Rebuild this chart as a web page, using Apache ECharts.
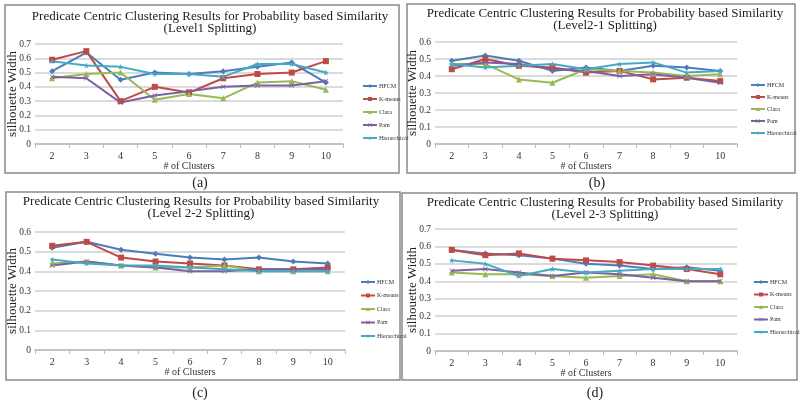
<!DOCTYPE html>
<html><head><meta charset="utf-8">
<script src="https://cdn.jsdelivr.net/npm/echarts@6/dist/echarts.min.js"></script>
<style>html,body{margin:0;padding:0;background:#fff}#c{width:800px;height:404px}</style>
</head><body><div id="c"></div>
<script>
var categories = ['2','3','4','5','6','7','8','9','10'];
var seriesNames = ['HFCM','K-means','Clara','Pam','Hierarchical'];

var a_hfcm   = [0.51,0.64,0.45,0.50,0.49,0.51,0.54,0.57,0.43];
var a_kmeans = [0.59,0.65,0.30,0.40,0.36,0.46,0.49,0.50,0.58];
var a_clara  = [0.46,0.49,0.50,0.31,0.35,0.32,0.43,0.44,0.38];
var a_pam    = [0.47,0.46,0.29,0.34,0.37,0.40,0.41,0.41,0.44];
var a_hier   = [0.58,0.55,0.54,0.49,0.49,0.47,0.56,0.56,0.50];

var b_hfcm   = [0.49,0.52,0.49,0.43,0.45,0.43,0.46,0.45,0.43];
var b_kmeans = [0.44,0.50,0.46,0.45,0.42,0.43,0.38,0.39,0.37];
var b_clara  = [0.47,0.47,0.38,0.36,0.44,0.43,0.42,0.40,0.41];
var b_pam    = [0.46,0.48,0.47,0.44,0.43,0.40,0.41,0.39,0.36];
var b_hier   = [0.47,0.45,0.46,0.47,0.44,0.47,0.48,0.42,0.43];

var c_hfcm   = [0.52,0.55,0.51,0.49,0.47,0.46,0.47,0.45,0.44];
var c_kmeans = [0.53,0.55,0.47,0.45,0.44,0.43,0.41,0.41,0.42];
var c_clara  = [0.44,0.45,0.43,0.42,0.42,0.43,0.40,0.40,0.40];
var c_pam    = [0.43,0.45,0.43,0.42,0.40,0.40,0.41,0.41,0.41];
var c_hier   = [0.46,0.44,0.43,0.43,0.42,0.41,0.40,0.40,0.40];

var d_hfcm   = [0.58,0.56,0.55,0.53,0.50,0.49,0.47,0.48,0.46];
var d_kmeans = [0.58,0.55,0.56,0.53,0.52,0.51,0.49,0.47,0.44];
var d_clara  = [0.45,0.44,0.44,0.43,0.42,0.43,0.44,0.40,0.40];
var d_pam    = [0.46,0.47,0.45,0.43,0.45,0.44,0.42,0.40,0.40];
var d_hier   = [0.52,0.50,0.43,0.47,0.45,0.46,0.47,0.47,0.47];

var yMax = [0.7, 0.6, 0.6, 0.7];
var panelTitles = [
  'Predicate Centric Clustering Results for Probability based Similarity\n(Level1 Splitting)',
  'Predicate Centric Clustering Results for Probability based Similarity\n(Level2-1 Splitting)',
  'Predicate Centric Clustering Results for Probability based Similarity\n(Level 2-2 Splitting)',
  'Predicate Centric Clustering Results for Probability based Similarity\n(Level 2-3 Splitting)'
];
var panelLabels = ['(a)','(b)','(c)','(d)'];
var xName = '# of Clusters';
var yName = 'silhouette Width';

var panelData = [
  [a_hfcm,a_kmeans,a_clara,a_pam,a_hier],
  [b_hfcm,b_kmeans,b_clara,b_pam,b_hier],
  [c_hfcm,c_kmeans,c_clara,c_pam,c_hier],
  [d_hfcm,d_kmeans,d_clara,d_pam,d_hier]
];

var FONT = 'Liberation Serif';
var colors = ['#4A7EBB','#BE4B48','#98B954','#7D60A0','#46AAC5'];
var symbols = ['diamond','rect','triangle',
  'path://M1,0L5,4L9,0L10,1L6,5L10,9L9,10L5,6L1,10L0,9L4,5L0,1Z',
  'path://M5,0L6.2,3.8L10,3.8L7,6.2L8.1,10L5,7.6L1.9,10L3,6.2L0,3.8L3.8,3.8Z'];
var symSizes = [6,6,6,5,6];

var grids = [
  {left:35, top:44, width:308, height:100},
  {left:435, top:42, width:302, height:102},
  {left:35, top:232, width:310, height:118},
  {left:435, top:229, width:302, height:122}
];
var legendPos = [
  {left:357, top:78, itemGap:7},
  {left:745, top:77, itemGap:6},
  {left:355, top:274, itemGap:7.5},
  {left:748, top:274, itemGap:6.5}
];
var boxes = [
  {x:5, y:5, w:394, h:168},
  {x:407, y:4, w:388, h:169},
  {x:6, y:192, w:394, h:188},
  {x:402, y:193, w:395, h:187}
];
var titlePos = [[210,23],[605,20],[201,208],[605,209]];
var labelPos = [[200,183],[597,183],[200,393],[595,393]];

var xAxes = [], yAxes = [], series = [], legends = [], graphics = [];
for (var p = 0; p < 4; p++) {
  xAxes.push({
    type:'category', gridIndex:p, data:categories, boundaryGap:true,
    name:xName, nameLocation:'middle', nameGap:17, nameMoveOverlap:false,
    nameTextStyle:{fontFamily:FONT, fontSize:10, color:'#333'},
    axisLine:{lineStyle:{color:'#bbb', width:1.5}},
    axisTick:{show:true, length:4, lineStyle:{color:'#bbb'}},
    axisLabel:{fontFamily:FONT, fontSize:10, color:'#333', margin:7},
    splitLine:{show:false}
  });
  yAxes.push({
    type:'value', gridIndex:p, min:0, max:yMax[p], interval:0.1,
    name:yName, nameLocation:'middle', nameGap:16, nameMoveOverlap:false,
    nameTextStyle:{fontFamily:FONT, fontSize:13, color:'#222'},
    axisLine:{show:false}, axisTick:{show:false},
    axisLabel:{fontFamily:FONT, fontSize:9.5, color:'#333', margin:4,
      formatter:function(v){ return v === 0 ? '0' : v.toFixed(1); }},
    splitLine:{lineStyle:{color:'#cfcfcf', width:1.5}}
  });
  for (var s = 0; s < 5; s++) {
    series.push({
      type:'line', name:seriesNames[s], xAxisIndex:p, yAxisIndex:p,
      data:panelData[p][s], symbol:symbols[s], symbolSize:symSizes[s],
      showAllSymbol:true,
      lineStyle:{color:colors[s], width:2},
      itemStyle:{color:colors[s]},
      emphasis:{disabled:true}, animation:false
    });
  }
  legends.push({
    orient:'vertical', left:legendPos[p].left, top:legendPos[p].top,
    itemGap:legendPos[p].itemGap, itemWidth:14, itemHeight:5,
    data:seriesNames, selectedMode:false,
    textStyle:{fontFamily:FONT, fontSize:6, color:'#333', padding:[0,0,0,-3]}
  });
  graphics.push({
    type:'rect', shape:{x:boxes[p].x, y:boxes[p].y, width:boxes[p].w, height:boxes[p].h},
    style:{fill:null, stroke:'#8a8a8a', lineWidth:1.5}, z:-1
  });
  graphics.push({
    type:'text', x:titlePos[p][0], y:titlePos[p][1],
    style:{text:panelTitles[p], fontFamily:FONT, fontSize:13, lineHeight:12,
      fill:'#222', textAlign:'center', textVerticalAlign:'middle'}
  });
  graphics.push({
    type:'text', x:labelPos[p][0], y:labelPos[p][1],
    style:{text:panelLabels[p], fontFamily:FONT, fontSize:14,
      fill:'#222', textAlign:'center', textVerticalAlign:'middle'}
  });
}

var chart = echarts.init(document.getElementById('c'), null, {renderer:'canvas'});
chart.setOption({
  animation:false,
  backgroundColor:'#fff',
  color:colors,
  grid:grids,
  xAxis:xAxes,
  yAxis:yAxes,
  legend:legends,
  series:series,
  graphic:graphics
});
</script>
</body></html>
